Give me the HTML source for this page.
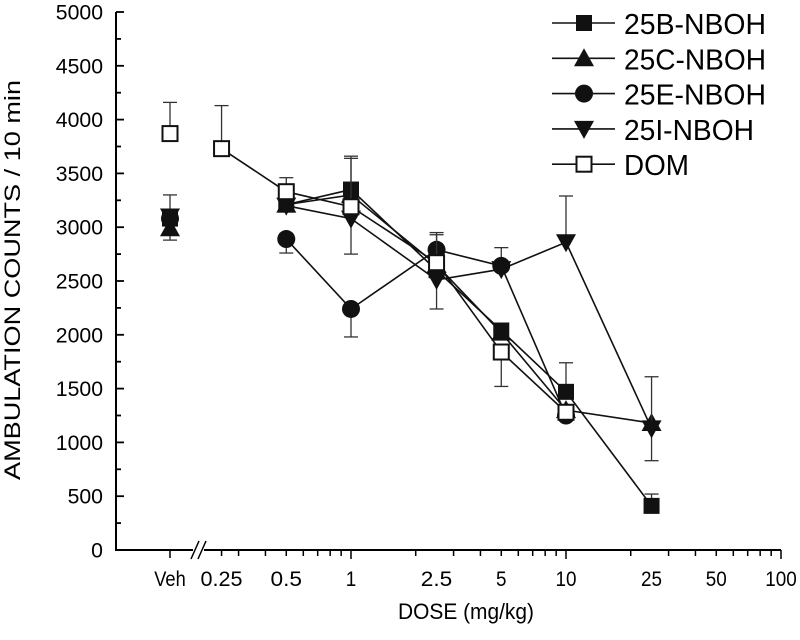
<!DOCTYPE html>
<html><head><meta charset="utf-8"><style>
body{margin:0;background:#fff}
svg{font-family:"Liberation Sans",Arial,sans-serif}
</style></head><body>
<svg id="chart" width="800" height="635" xmlns="http://www.w3.org/2000/svg"></svg>
<script>
const doses=['Veh',0.25,0.5,1,2.5,5,10,25];
const seriesNames=['25B-NBOH','25C-NBOH','25E-NBOH','25I-NBOH','DOM'];
const s25B=[3080,null,3210,3350,2600,2040,1470,410];
const s25C=[2990,null,3210,3300,2650,2020,1300,1180];
const s25E=[3080,null,2890,2240,2790,2640,1250,null];
const s25I=[3100,null,3200,3080,2510,2610,2860,1130];
const sDOM=[3870,3730,3330,3190,2670,1840,1280,null];
const up25B=[0,null,0,310,0,0,270,110];
const dn25B=[0,null,0,0,0,0,0,0];
const up25C=[0,null,0,0,0,0,0,0];
const dn25C=[110,null,0,0,0,0,0,0];
const up25E=[0,null,0,0,160,170,0,null];
const dn25E=[0,null,130,260,0,0,0,null];
const up25I=[200,null,0,0,0,0,430,480];
const dn25I=[0,null,0,330,270,0,0,300];
const upDOM=[290,400,130,450,260,0,0,null];
const dnDOM=[0,0,0,0,0,320,0,null];
const yTicks=[0,500,1000,1500,2000,2500,3000,3500,4000,4500,5000];
const xTickLabels=['Veh','0.25','0.5','1','2.5','5','10','25','50','100'];
const xTickVals=['Veh',0.25,0.5,1,2.5,5,10,25,50,100];

const NS='http://www.w3.org/2000/svg';
const svg=document.getElementById('chart');
function mk(t,a,p){const e=document.createElementNS(NS,t);for(const k in a)e.setAttribute(k,a[k]);(p||svg).appendChild(e);return e;}
const X0=116,Y0=550,Ypx=0.1076;
function xs(d){if(d==='Veh')return 170;return 351+215*Math.log10(d);}
function ys(v){return Y0-v*Ypx;}

let ax=mk('path',{d:`M${X0},${ys(5000)} L${X0},${Y0} L193,${Y0} M204,${Y0} L781,${Y0}`,stroke:'#000','stroke-width':2,fill:'none'});

let br=mk('path',{d:`M191,${Y0+9} L199,${Y0-9} M198,${Y0+9} L206,${Y0-9}`,stroke:'#000','stroke-width':1.5});

for(let v=0;v<=5000;v+=250){
  const major=v%500===0;
  mk('line',{x1:X0,x2:X0+(major?8:5),y1:ys(v),y2:ys(v),stroke:'#000','stroke-width':1.8});
}
yTicks.forEach(v=>{
  const s=String(v);
  const t=mk('text',{x:103,y:ys(v)+7.5,'text-anchor':'end','font-size':21,textLength:s.length*11.8,lengthAdjust:'spacingAndGlyphs'});t.textContent=s;
  
});
for(let dec=-1;dec<2;dec++){for(let m=1;m<=9;m++){const v=m*Math.pow(10,dec);if(v<0.3)continue;
  mk('line',{x1:xs(v),x2:xs(v),y1:Y0,y2:Y0+(m===1?9:6),stroke:'#000','stroke-width':1.5});}}
mk('line',{x1:xs(100),x2:xs(100),y1:Y0,y2:Y0+9,stroke:'#000','stroke-width':1.5});
mk('line',{x1:xs('Veh'),x2:xs('Veh'),y1:Y0,y2:Y0+8,stroke:'#000','stroke-width':1.5});
mk('line',{x1:xs(0.25),x2:xs(0.25),y1:Y0,y2:Y0+6,stroke:'#000','stroke-width':1.5});
xTickVals.forEach((v,i)=>{
  const s=xTickLabels[i];
  const t=mk('text',{x:xs(v),y:586,'text-anchor':'middle','font-size':21,textLength:s.length*10.5,lengthAdjust:'spacingAndGlyphs'});t.textContent=s;
  
});
let yt=mk('text',{x:0,y:0,transform:'translate(20,280) rotate(-90)','text-anchor':'middle','font-size':22,textLength:400,lengthAdjust:'spacingAndGlyphs'});yt.textContent='AMBULATION COUNTS / 10 min';

let xt=mk('text',{x:466,y:619,'text-anchor':'middle','font-size':22,textLength:136,lengthAdjust:'spacingAndGlyphs'});xt.textContent='DOSE (mg/kg)';


function marker(type,x,y,g){
  if(type==='sq')return mk('rect',{x:x-8,y:y-8,width:16,height:16,fill:'#111'},g);
  if(type==='osq')return mk('rect',{x:x-7.5,y:y-7.5,width:15,height:15,fill:'#fff',stroke:'#111','stroke-width':2},g);
  if(type==='tri')return mk('path',{d:`M${x},${y-10} L${x+10},${y+8} L${x-10},${y+8}Z`,fill:'#111'},g);
  if(type==='itri')return mk('path',{d:`M${x},${y+10} L${x+10},${y-8} L${x-10},${y-8}Z`,fill:'#111'},g);
  return mk('circle',{cx:x,cy:y,r:9,fill:'#111'},g);
}
const all=[[s25B,up25B,dn25B,'sq'],[s25C,up25C,dn25C,'tri'],[s25E,up25E,dn25E,'circ'],[s25I,up25I,dn25I,'itri'],[sDOM,upDOM,dnDOM,'osq']];
const order=[2,1,3,0,4];
order.forEach(si=>{
  const [vals,ups,dns,type]=all[si];
  const g=mk('g',{});
  
  
  let pts=[];
  vals.forEach((v,i)=>{if(v!==null&&i>0)pts.push([xs(doses[i]),ys(v)]);});
  mk('polyline',{points:pts.map(p=>p.join(',')).join(' '),fill:'none',stroke:'#111','stroke-width':1.6},g);
  vals.forEach((v,i)=>{
    if(v===null)return;const x=xs(doses[i]);
    [ups[i]||0,-(dns[i]||0)].forEach(e=>{
      if(!e)return;const y2=ys(v+e);
      mk('line',{x1:x,x2:x,y1:ys(v),y2:y2,stroke:'#333','stroke-width':1.3},g);
      mk('line',{x1:x-7,x2:x+7,y1:y2,y2:y2,stroke:'#333','stroke-width':1.3},g);
    });
    const m=marker(type,x,ys(v),g);
    
    
  });
});
const legTypes=['sq','tri','circ','itri','osq'];
seriesNames.forEach((n,i)=>{
  const y=23+i*35.3;
  const g=mk('g',{});
  
  
  mk('line',{x1:552,x2:615,y1:y,y2:y,stroke:'#111','stroke-width':1.6},g);
  marker(legTypes[i],584,y,g);
  const t=mk('text',{x:624,y:y+11,'font-size':29,textLength:n==='DOM'?65:(n==='25I-NBOH'?130:142),lengthAdjust:'spacingAndGlyphs'},g);t.textContent=n;
});
</script>
</body></html>
